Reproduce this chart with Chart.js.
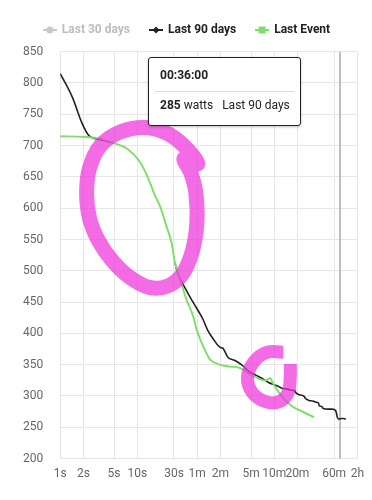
<!DOCTYPE html>
<html>
<head>
<meta charset="utf-8">
<script src="https://cdn.jsdelivr.net/npm/chart.js@4/dist/chart.umd.min.js"></script>
<style>
html,body{margin:0;padding:0;background:#fff;}
#wrap{position:relative;width:372px;height:500px;}
#tip{position:absolute;left:148px;top:57px;width:151px;height:67px;border:1.5px solid #222;border-radius:3px;background:#fff;font-family:Roboto,sans-serif;font-size:12px;color:#222;box-shadow:0 1px 3px rgba(0,0,0,.25);}
#tip .t{position:absolute;left:11px;top:10px;font-weight:bold;}
#tip .sep{position:absolute;left:6px;right:6px;top:33px;height:1px;background:#ddd;}
#tip .b{position:absolute;left:11px;top:40px;white-space:nowrap;}
#tip .b b{font-weight:bold;}
</style>
</head>
<body>
<div id="wrap">
<canvas id="c" width="372" height="500"></canvas>
<div id="tip"><div class="t">00:36:00</div><div class="sep"></div><div class="b"><b>285</b> watts&nbsp;&nbsp;&nbsp;Last 90 days</div></div>
</div>
<script>
// ---- data ----
const seriesNames = ['Last 30 days', 'Last 90 days', 'Last Event'];
const xTicks = [1, 2, 5, 10, 30, 60, 120, 300, 600, 1200, 3600, 7200];
const xTickLabels = ['1s', '2s', '5s', '10s', '30s', '1m', '2m', '5m', '10m', '20m', '60m', '2h'];

const last30Secs = [];
const last30Watts = [];

const last90Secs = [1, 1.44, 1.93, 2.35, 3.1, 4, 5, 7.4, 10.4, 12.5, 14.7, 17, 19.8, 24, 28, 30.8, 34, 41.5, 50.6, 58.6, 71, 83, 97, 118, 130, 150, 183, 225, 290, 350, 420, 500, 600, 665, 770, 900, 1040, 1100, 1150, 1270, 1400, 1480, 1530, 1700, 1900, 2090, 2250, 2300, 2500, 2600, 3000, 3400, 3750, 3900, 3950, 4200, 4500, 4800, 5100];
const last90Watts = [815, 777, 735, 716, 710, 707, 704, 695, 677, 660, 640, 620, 603, 571, 544, 513, 494, 473, 454, 441, 423, 404, 391, 378, 376, 362, 357, 350, 338, 333, 328, 322, 318, 316, 312, 311, 309, 309, 305, 302, 301, 299, 296, 293, 292, 290, 289, 285, 283, 280, 279, 279, 277, 270, 266, 263, 264, 264, 263];

const eventSecs = [1, 2, 3, 5, 7.4, 10.4, 12.5, 14.7, 17, 19.8, 24, 28, 30.8, 36, 43.6, 53, 58.7, 68, 78, 87, 112, 158, 213, 290, 387, 470, 530, 570, 600, 735, 990, 1390, 1980];
const eventWatts = [715, 714, 712, 704, 695, 677, 660, 640, 620, 603, 571, 544, 513, 486, 454, 428, 407, 386, 370, 359, 351, 347, 345, 335, 327, 325, 329, 322, 317, 301, 285, 275, 266];

// range (seconds) where the 90-day best equals the event and lies under it
const sharedRange = [5, 30.8];

// hover marker and hand-drawn highlight strokes (seconds, watts)
const markerSecs = 4290;
const bigLoopSecs = [61.2, 41.6, 25.1, 12.7, 6.04, 3.33, 2.4, 2.2, 2.4, 3.14, 4.76, 8.12, 14.7, 25.1, 38.1, 51.3, 59.4, 57.7, 49.7, 40.4];
const bigLoopWatts = [671, 698, 719, 729, 722, 700, 664, 624, 584, 548, 516, 489, 473, 476, 494, 529, 576, 624, 656, 679];
const smallLoopSecs = [788, 490, 323, 270, 314, 462, 700, 914, 970, 970];
const smallLoopWatts = [370, 370, 354, 329, 305, 291, 291, 306, 330, 351];

const colors = { last30: '#c8c8c8', last90: '#222222', event: '#7ddd68', hidden: '#bdbdbd', text: '#222222' };

function pts(xs, ys) { return xs.map((x, i) => ({ x: x, y: ys[i] })); }

function legendIcon(color, shape) {
  const cv = document.createElement('canvas');
  cv.width = 14; cv.height = 10;
  const g = cv.getContext('2d');
  g.strokeStyle = color; g.fillStyle = color; g.lineWidth = 2;
  g.beginPath(); g.moveTo(0, 5); g.lineTo(14, 5); g.stroke();
  g.beginPath();
  if (shape === 'circle') { g.arc(7, 5, 3.5, 0, Math.PI * 2); g.fill(); }
  else if (shape === 'diamond') { g.moveTo(7, 1.5); g.lineTo(10.5, 5); g.lineTo(7, 8.5); g.lineTo(3.5, 5); g.closePath(); g.fill(); }
  else { g.rect(3.5, 1.5, 7, 7); g.fill(); }
  return cv;
}
const icons = [legendIcon(colors.last30, 'circle'), legendIcon(colors.last90, 'diamond'), legendIcon(colors.event, 'rect')];

const overlayPlugin = {
  id: 'overlay',
  beforeDatasetsDraw(chart) {
    const { ctx, chartArea, scales } = chart;
    const px = scales.x.getPixelForValue(markerSecs);
    ctx.save();
    ctx.strokeStyle = '#a8a8a8'; ctx.lineWidth = 1.5;
    ctx.beginPath(); ctx.moveTo(px, chartArea.top); ctx.lineTo(px, chartArea.bottom); ctx.stroke();
    ctx.restore();
  },
  afterDatasetsDraw(chart) {
    const { ctx, scales } = chart;
    function stroke(xs, ys, width, closed) {
      const p = xs.map((x, i) => [scales.x.getPixelForValue(x), scales.y.getPixelForValue(ys[i])]);
      const n = p.length;
      const at = (i) => closed ? p[(i + n) % n] : p[Math.max(0, Math.min(n - 1, i))];
      ctx.beginPath();
      ctx.moveTo(p[0][0], p[0][1]);
      const segs = closed ? n : n - 1;
      for (let i = 0; i < segs; i++) {
        const p0 = at(i - 1), p1 = at(i), p2 = at(i + 1), p3 = at(i + 2);
        ctx.bezierCurveTo(
          p1[0] + (p2[0] - p0[0]) / 6, p1[1] + (p2[1] - p0[1]) / 6,
          p2[0] - (p3[0] - p1[0]) / 6, p2[1] - (p3[1] - p1[1]) / 6,
          p2[0], p2[1]);
      }
      if (closed) ctx.closePath();
      ctx.lineWidth = width;
      ctx.stroke();
    }
    ctx.save();
    ctx.strokeStyle = 'rgba(240,50,220,0.72)';
    ctx.lineJoin = 'round'; ctx.lineCap = 'butt';
    stroke(bigLoopSecs, bigLoopWatts, 15, true);
    stroke(smallLoopSecs, smallLoopWatts, 13, false);
    ctx.restore();
  }
};

const tickFont = { family: 'Roboto', size: 12 };

new Chart(document.getElementById('c'), {
  type: 'line',
  data: {
    datasets: [
      { label: seriesNames[0], data: pts(last30Secs, last30Watts), borderColor: colors.last30, backgroundColor: colors.last30, hidden: true, pointRadius: 0, borderWidth: 1.7 },
      { label: seriesNames[1], data: pts(last90Secs, last90Watts), borderColor: colors.last90, backgroundColor: colors.last90, pointRadius: 0, borderWidth: 1.6, cubicInterpolationMode: 'monotone', order: 2,
        segment: { borderColor: (c) => (c.p0.parsed.x >= sharedRange[0] && c.p1.parsed.x <= sharedRange[1]) ? 'rgba(0,0,0,0)' : undefined } },
      { label: seriesNames[2], data: pts(eventSecs, eventWatts), borderColor: colors.event, backgroundColor: colors.event, pointRadius: 0, borderWidth: 1.9, cubicInterpolationMode: 'monotone', order: 1 }
    ]
  },
  options: {
    responsive: false,
    animation: false,
    events: [],
    layout: { padding: { left: 6, right: 4, top: 4, bottom: 11 } },
    plugins: {
      tooltip: { enabled: false },
      title: { display: true, text: ' ', weight: 500, font: { size: 1 }, padding: { top: 0, bottom: 4.5 } },
      legend: {
        position: 'top',
        labels: {
          usePointStyle: true,
          pointStyleWidth: 12,
          boxHeight: 10,
          padding: 20,
          font: { family: 'Roboto', size: 12, weight: 'bold' },
          color: colors.text,
          generateLabels(chart) {
            return chart.data.datasets.map((ds, i) => ({
              text: ds.label,
              fillStyle: ds.backgroundColor,
              strokeStyle: ds.borderColor,
              lineWidth: 0,
              hidden: false,
              pointStyle: icons[i],
              fontColor: i === 0 ? colors.hidden : colors.text,
              datasetIndex: i
            }));
          }
        }
      }
    },
    scales: {
      x: {
        type: 'logarithmic',
        min: 1, max: 7200,
        afterBuildTicks(scale) { scale.ticks = xTicks.map(v => ({ value: v })); },
        ticks: { autoSkip: false, maxRotation: 0, padding: 8, font: tickFont, color: '#666', callback: (v, i) => xTickLabels[i] },
        grid: { color: '#e6e6e6', drawTicks: false },
        border: { display: false }
      },
      y: {
        min: 200, max: 850,
        ticks: { stepSize: 50, padding: 17, font: tickFont, color: '#666' },
        grid: { color: '#e6e6e6', drawTicks: false },
        border: { display: false }
      }
    }
  },
  plugins: [overlayPlugin]
});
</script>
</body>
</html>
